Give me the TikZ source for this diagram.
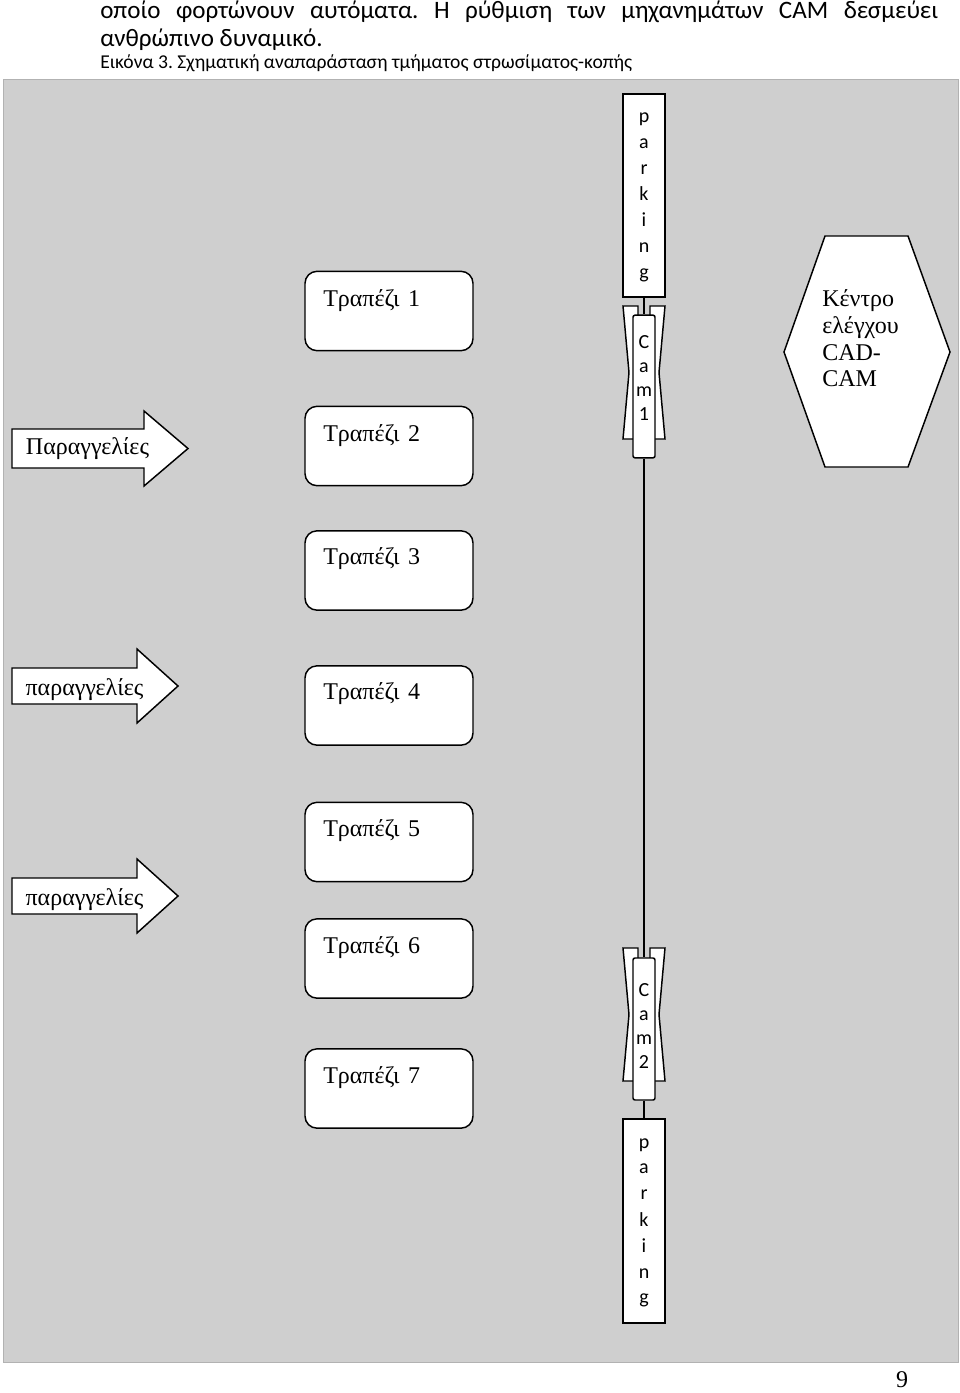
\documentclass[tikz,border=0pt]{standalone}
\usepackage{fontspec}
\setmainfont{Liberation Serif}
\newfontfamily\calibri{Carlito}
\definecolor{panelgray}{RGB}{207,207,207}
\frenchspacing

\begin{document}
\begin{tikzpicture}[x=0.75pt, y=-0.75pt,
    tablebox/.style={draw, line width=1.1pt, fill=white, rounded corners=9pt, minimum width=126pt, minimum height=59.5pt, inner sep=0pt},
    tablelabel/.style={anchor=base west, inner sep=0pt, font=\fontsize{18}{21}\selectfont},
    orderarrow/.style={draw, line width=1.1pt, fill=white},
    ordertext/.style={inner sep=0pt, font=\fontsize{18}{21}\selectfont},
    parkbox/.style={draw, line width=1.1pt, fill=white, minimum width=31.5pt, inner sep=0pt},
    parktext/.style={anchor=north, inner sep=0pt, align=center, font=\calibri\fontsize{15}{19.5}\selectfont},
    cambox/.style={draw, line width=1.1pt, fill=white, rounded corners=1.5pt, minimum width=16.5pt, inner sep=0pt},
    camtext/.style={anchor=north, inner sep=0pt, align=center, font=\calibri\fontsize{15}{18}\selectfont},
    jaw/.style={draw, line width=1.1pt, fill=white},
    wire/.style={line width=1.1pt},
    bodytext/.style={anchor=base west, inner sep=0pt, font=\calibri\fontsize{18.8}{22}\selectfont}]
    \useasboundingbox (0,0) rectangle (960,1393);

    % text above the figure
    \node[bodytext] (line1) at (100,18) {\makebox[628.5pt][s]{οποίο φορτώνουν αυτόματα. Η ρύθμιση των μηχανημάτων CAM δεσμεύει}};
    \node[bodytext] (line2) at (100,46) {ανθρώπινο δυναμικό.};
    \node[bodytext, font=\calibri\fontsize{14.7}{17}\selectfont] (caption) at (100,68) {Εικόνα 3. Σχηματική αναπαράσταση τμήματος στρωσίματος-κοπής};

    % background
    \fill[panelgray, draw=gray!60, line width=0.4pt] (3,79) rectangle (958,1362);

    % orders
    \draw[orderarrow] (12,429) -- (144,429) -- (144,411) -- (188,448.5) -- (144,486) -- (144,468) -- (12,468) -- cycle;
    \node[ordertext] (order1) at (87.5,449) {Παραγγελίες};
    \draw[orderarrow] (12,668) -- (137,668) -- (137,649) -- (178,686) -- (137,723) -- (137,704) -- (12,704) -- cycle;
    \node[ordertext] (order2) at (84.5,690) {παραγγελίες};
    \draw[orderarrow] (12,878) -- (137,878) -- (137,859) -- (178,896) -- (137,933) -- (137,914) -- (12,914) -- cycle;
    \node[ordertext] (order3) at (84.5,900) {παραγγελίες};

    % tables
    \node[tablebox] (t1) at (389,311) {};
    \node[tablelabel] (l1) at (323,306) {Τραπέζι\hspace{0.35em}1};
    \node[tablebox] (t2) at (389,446) {};
    \node[tablelabel] (l2) at (323,441) {Τραπέζι\hspace{0.35em}2};
    \node[tablebox] (t3) at (389,570.5) {};
    \node[tablelabel] (l3) at (323,564.5) {Τραπέζι\hspace{0.35em}3};
    \node[tablebox] (t4) at (389,705.5) {};
    \node[tablelabel] (l4) at (323,699) {Τραπέζι\hspace{0.35em}4};
    \node[tablebox] (t5) at (389,842) {};
    \node[tablelabel] (l5) at (323,836) {Τραπέζι\hspace{0.35em}5};
    \node[tablebox] (t6) at (389,958.5) {};
    \node[tablelabel] (l6) at (323,953) {Τραπέζι\hspace{0.35em}6};
    \node[tablebox] (t7) at (389,1088.5) {};
    \node[tablelabel] (l7) at (323,1083) {Τραπέζι\hspace{0.35em}7};

    % control centre
    \draw[jaw] (825,236) -- (908,236) -- (950,352) -- (908,467) -- (825,467) -- (784,352) -- cycle;
    \node[anchor=north west, inner sep=0pt, align=left, font=\fontsize{18}{20.2}\selectfont] (cad) at (822,289) {Κέντρο\\ελέγχου\\CAD-\\CAM};

    % rail with the two cams
    \node[parkbox, minimum height=152.5pt] (park1) at (644,195.5) {};
    \node[parktext] (p1) at (644,113) {p\\a\\r\\k\\i\\n\\g};
    \draw[jaw] (623,306) -- (638,306) -- (638,439) -- (623,439) -- (629,372.5) -- cycle;
    \draw[jaw] (650,306) -- (665,306) -- (659,372.5) -- (665,439) -- (650,439) -- cycle;
    \node[cambox, minimum height=107pt] (cam1) at (644,386.5) {};
    \node[camtext] (c1) at (644,335) {C\\a\\m\\1};

    \draw[jaw] (623,948) -- (638,948) -- (638,1081) -- (623,1081) -- (629,1014.5) -- cycle;
    \draw[jaw] (650,948) -- (665,948) -- (659,1014.5) -- (665,1081) -- (650,1081) -- cycle;
    \node[cambox, minimum height=106.5pt] (cam2) at (644,1029) {};
    \node[camtext] (c2) at (644,983.5) {C\\a\\m\\2};
    \node[parkbox, minimum height=153pt] (park2) at (644,1221) {};
    \node[parktext] (p2) at (644,1138) {p\\a\\r\\k\\i\\n\\g};

    \draw[wire] (park1) -- (cam1);
    \draw[wire] (cam1) -- (cam2);
    \draw[wire] (cam2) -- (park2);

    \node[font=\fontsize{18}{20}\selectfont] (pagenum) at (902,1380) {9};
\end{tikzpicture}
\end{document}
